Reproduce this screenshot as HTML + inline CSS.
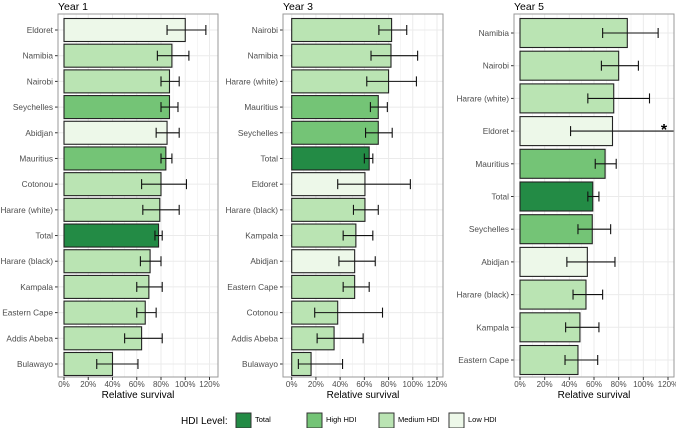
<!DOCTYPE html>
<html><head><meta charset="utf-8"><style>
body{margin:0;background:#fff}
svg{display:block;font-family:"Liberation Sans",sans-serif}
</style></head><body>
<svg id="c" width="676" height="428" xmlns="http://www.w3.org/2000/svg"></svg>
<script>
const y1Cats=["Eldoret","Namibia","Nairobi","Seychelles","Abidjan","Mauritius","Cotonou","Harare (white)","Total","Harare (black)","Kampala","Eastern Cape","Addis Abeba","Bulawayo"];
const y1Vals=[100,89,87,87,85,84,80,79,78,71,70,67,64,40];
const y1Lo=[85,77,80,80,76,80,64,65,75,63,60,60,50,27];
const y1Hi=[117,103,95,94,95,89,101,95,81,80,81,76,81,61];
const y1Lvl=["L","M","M","H","L","H","M","M","T","M","M","M","M","M"];
const y3Cats=["Nairobi","Namibia","Harare (white)","Mauritius","Seychelles","Total","Eldoret","Harare (black)","Kampala","Abidjan","Eastern Cape","Cotonou","Addis Abeba","Bulawayo"];
const y3Vals=[82.5,82,80,71.5,71.5,64,60.5,60.5,53,52,52,38,35,16];
const y3Lo=[72,65.5,62,65,61,60,38,51,42.5,39,42.5,19,21,5.5];
const y3Hi=[95,104,103,79,83,67,98,71.5,67,69,64,75,59,42];
const y3Lvl=["M","M","M","H","H","T","L","M","M","L","M","M","M","M"];
const y5Cats=["Namibia","Nairobi","Harare (white)","Eldoret","Mauritius","Total","Seychelles","Abidjan","Harare (black)","Kampala","Eastern Cape"];
const y5Vals=[87,80,76,75,69,59,58.6,54.6,53.5,48.6,47];
const y5Lo=[67,66,55,41,61,55,47,38,43,37,36.5];
const y5Hi=[112,96,105,140,78,64,73.5,77,67,64,63];
const y5Lvl=["M","M","M","L","H","T","H","L","M","M","M"];
const ticks=[0,20,40,60,80,100,120];
const tickLabels=["0%","20%","40%","60%","80%","100%","120%"];

const NS="http://www.w3.org/2000/svg";
const svg=document.getElementById('c');
const col={T:"#238b45",H:"#74c476",M:"#bae4b3",L:"#edf8e9"};
function el(t,a,p){const e=document.createElementNS(NS,t);for(const k in a)e.setAttribute(k,a[k]);(p||svg).appendChild(e);return e;}

function panel(id,title,cats,vals,lo,hi,lvl,left,right,x0,x120,top,bottom,c0,cN,bh){
  const g=el('g',{});
  
  
  const xs=v=>x0+(x120-x0)*v/120;
  const n=cats.length;
  const ys=i=>c0+(cN-c0)*i/(n-1);
  el('rect',{x:left,y:top,width:right-left,height:bottom-top,fill:'#fff'},g);
  for(let v=10;v<=120;v+=10){
    const gl=el('line',{x1:xs(v),x2:xs(v),y1:top,y2:bottom,stroke:'#ebebeb','stroke-width':v%20?0.5:1},g);
    
    
  }
  el('line',{x1:xs(0),x2:xs(0),y1:top,y2:bottom,stroke:'#ebebeb','stroke-width':1},g);
  for(let i=0;i<n;i++) el('line',{x1:left,x2:right,y1:ys(i),y2:ys(i),stroke:'#ebebeb'},g);
  for(let i=0;i<n;i++){
    const y=ys(i);
    const b=el('rect',{x:xs(0),y:y-bh/2,width:xs(vals[i])-xs(0),height:bh,fill:col[lvl[i]],stroke:'#222','stroke-width':1.1},g);
    
    
    const hx=Math.min(xs(hi[i]),right);
    const eb=el('g',{stroke:'#111','stroke-width':1.1},g);
    
    
    el('line',{x1:xs(lo[i]),x2:hx,y1:y,y2:y},eb);
    el('line',{x1:xs(lo[i]),x2:xs(lo[i]),y1:y-5,y2:y+5},eb);
    if(xs(hi[i])<=right) el('line',{x1:hx,x2:hx,y1:y-5,y2:y+5},eb);
    else{const s=el('text',{x:right-10,y:y+4,'font-size':16,'font-weight':'bold',fill:'#000','text-anchor':'middle'},g);s.textContent='*';
      }
    el('line',{x1:left-3,x2:left,y1:y,y2:y,stroke:'#333'},g);
    const t=el('text',{x:left-5,y:y+3,'font-size':8.3,fill:'#4d4d4d','text-anchor':'end'},g);
    t.textContent=cats[i];
    
    
  }
  el('rect',{x:left,y:top,width:right-left,height:bottom-top,fill:'none',stroke:'#999','stroke-width':1},g);
  ticks.forEach((v,i)=>{
    el('line',{x1:xs(v),x2:xs(v),y1:bottom,y2:bottom+3,stroke:'#333'},g);
    const t=el('text',{x:xs(v),y:bottom+10,'font-size':8,fill:'#4d4d4d','text-anchor':'middle'},g);
    t.textContent=tickLabels[i];
    
    
  });
  const xt=el('text',{x:(left+right)/2,y:bottom+21,'font-size':10,fill:'#000','text-anchor':'middle'},g);
  xt.textContent='Relative survival';
  
  
  const tt=el('text',{x:left,y:top-4,'font-size':10.5,fill:'#000'},g);
  tt.textContent=title;
  
  
}
panel('year-1','Year 1',y1Cats,y1Vals,y1Lo,y1Hi,y1Lvl,58,218,64,209.5,14,377,30,364,23);
panel('year-3','Year 3',y3Cats,y3Vals,y3Lo,y3Hi,y3Lvl,283,443,291.7,437,14,377,30,364,23);
panel('year-5','Year 5',y5Cats,y5Vals,y5Lo,y5Hi,y5Lvl,514,674,520,668,14,377,33,360,29);

const lg=el('g',{});


const lt=el('text',{x:181,y:424,'font-size':10,fill:'#000'},lg);lt.textContent='HDI Level:';


const legCats=["Total","High HDI","Medium HDI","Low HDI"];
const legKeys=["T","H","M","L"];
const legX=[236,307,379,449];
legCats.forEach((c,i)=>{
  const e=el('g',{},lg);
  
  
  el('rect',{x:legX[i],y:413,width:15,height:15,fill:col[legKeys[i]],stroke:'#333','stroke-width':1},e);
  const t=el('text',{x:legX[i]+19,y:422,'font-size':7.5,fill:'#000'},e);t.textContent=c;
});
</script>
</body></html>
